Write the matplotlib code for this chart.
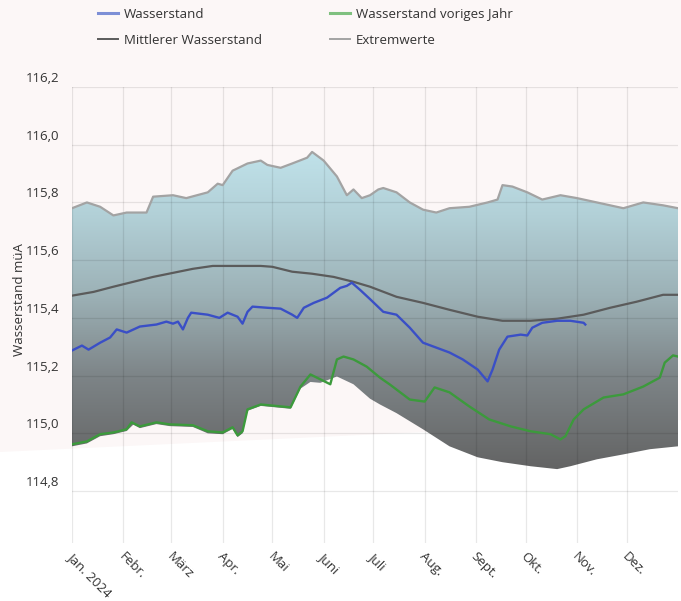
import matplotlib
matplotlib.use("Agg")
import matplotlib.pyplot as plt
import numpy as np
from matplotlib.colors import LinearSegmentedColormap
from matplotlib.patches import Polygon
from matplotlib.lines import Line2D
from matplotlib.transforms import ScaledTranslation

plt.rcParams['font.family'] = ['Open Sans', 'DejaVu Sans']

# day of year 2024 (0 = 1. Jan.)
month_starts = [0, 31, 60, 91, 121, 152, 182, 213, 244, 274, 305, 335]
month_labels = ['Jan. 2024', 'Febr.', 'März', 'Apr.', 'Mai', 'Juni', 'Juli',
                'Aug.', 'Sept.', 'Okt.', 'Nov.', 'Dez.']
y_ticks = [114.8, 115.0, 115.2, 115.4, 115.6, 115.8, 116.0, 116.2]

# Extremwerte oben
max_days = [0, 9, 17, 25, 33, 45, 49, 61, 69, 82, 88, 91, 97, 106, 114, 118, 126,
            133, 142, 145, 152, 160, 166, 170, 175, 180, 185, 188, 196, 204, 212,
            220, 228, 240, 251, 257, 260, 266, 275, 284, 295, 305, 317, 333, 345,
            357, 366]
max_vals = [115.78, 115.80, 115.785, 115.755, 115.765, 115.765, 115.82, 115.825,
            115.815, 115.835, 115.865, 115.86, 115.91, 115.935, 115.945, 115.93,
            115.92, 115.935, 115.955, 115.975, 115.945, 115.89, 115.825, 115.845,
            115.815, 115.825, 115.845, 115.85, 115.835, 115.80, 115.775, 115.765,
            115.78, 115.785, 115.80, 115.81, 115.86, 115.855, 115.835, 115.81,
            115.825, 115.815, 115.80, 115.78, 115.80, 115.79, 115.78]

# Extremwerte unten
min_days = [0, 9, 17, 25, 33, 37, 41, 51, 59, 73, 82, 91, 97, 100, 103, 106, 114,
            132, 138, 144, 150, 156, 160, 170, 180, 186, 196, 212, 228, 245, 260,
            277, 293, 301, 317, 333, 349, 366]
min_vals = [114.955, 114.965, 114.99, 114.997, 115.008, 115.03, 115.018, 115.032,
            115.025, 115.022, 115.0, 114.997, 115.015, 114.987, 115.0, 115.078,
            115.095, 115.085, 115.155, 115.178, 115.175, 115.188, 115.197, 115.17,
            115.12, 115.10, 115.07, 115.014, 114.955, 114.917, 114.90, 114.886,
            114.876, 114.886, 114.91, 114.927, 114.945, 114.955]

# Mittlerer Wasserstand
mean_days = [0, 13, 25, 37, 49, 61, 73, 85, 114, 121, 133, 145, 158, 170, 180, 196,
             212, 228, 245, 260, 277, 293, 309, 325, 341, 357, 366]
mean_vals = [115.477, 115.49, 115.508, 115.525, 115.542, 115.556, 115.57, 115.58,
             115.58, 115.577, 115.56, 115.553, 115.542, 115.525, 115.508, 115.473,
             115.452, 115.428, 115.404, 115.39, 115.39, 115.397, 115.411, 115.435,
             115.456, 115.48, 115.48]

# Wasserstand 2024
cur_days = [0, 6, 10, 17, 23, 27, 33, 41, 51, 57, 61, 64, 67, 70, 72, 82, 89, 94,
            100, 103, 106, 109, 118, 126, 133, 136, 140, 146, 154, 162, 166, 169,
            174, 180, 188, 196, 204, 212, 220, 228, 236, 245, 251, 254, 258, 263,
            271, 275, 278, 284, 293, 301, 309, 310]
cur_vals = [115.287, 115.304, 115.29, 115.314, 115.332, 115.36, 115.349, 115.37,
            115.377, 115.387, 115.38, 115.387, 115.36, 115.40, 115.418, 115.411,
            115.40, 115.418, 115.404, 115.38, 115.421, 115.439, 115.435, 115.432,
            115.411, 115.40, 115.435, 115.452, 115.47, 115.504, 115.511, 115.522,
            115.497, 115.465, 115.421, 115.411, 115.366, 115.314, 115.297, 115.28,
            115.256, 115.221, 115.18, 115.221, 115.29, 115.335, 115.342, 115.339,
            115.366, 115.383, 115.39, 115.39, 115.383, 115.377]

# Wasserstand voriges Jahr
prev_days = [0, 9, 17, 25, 33, 36, 41, 51, 59, 73, 82, 91, 97, 100, 103, 106, 114,
             132, 138, 144, 150, 156, 160, 164, 170, 178, 186, 192, 204, 213, 219,
             228, 240, 252, 265, 277, 289, 295, 298, 303, 309, 321, 333, 345, 355,
             358, 363, 366]
prev_vals = [114.962, 114.972, 114.997, 115.003, 115.014, 115.038, 115.024, 115.038,
             115.031, 115.028, 115.007, 115.003, 115.021, 114.993, 115.007, 115.083,
             115.10, 115.09, 115.162, 115.204, 115.187, 115.17, 115.256, 115.266,
             115.256, 115.231, 115.193, 115.169, 115.117, 115.11, 115.159, 115.142,
             115.093, 115.048, 115.024, 115.007, 114.997, 114.979, 114.99, 115.048,
             115.083, 115.124, 115.135, 115.162, 115.193, 115.245, 115.27, 115.266]

fig = plt.figure(figsize=(6.81, 6.01), dpi=100, facecolor='#fcf7f7')
# white band of the background picture
fig.patches.append(Polygon([[0, 1 - 452 / 601], [1, 1 - 420 / 601], [1, 0], [0, 0]],
                           closed=True, transform=fig.transFigure,
                           facecolor='white', edgecolor='none', zorder=0))

ax = fig.add_axes([72 / 681, 1 - 543 / 601, 606 / 681, (543 - 87) / 601])
ax.set_facecolor('none')
ax.set_zorder(2)

# gradient between the extreme values
cmap = LinearSegmentedColormap.from_list(
    'band', [(0.0, '#626262'), (0.3, '#7d8487'), (0.55, '#9cb1b6'),
             (0.8, '#b2d0d7'), (1.0, '#c0e2ea')])
grad = np.linspace(0, 1, 256).reshape(-1, 1)
im = ax.imshow(grad, cmap=cmap, origin='lower', aspect='auto',
               extent=[0, 366, 114.86, 115.98], zorder=1)
poly_xy = np.vstack([np.column_stack([max_days, max_vals]),
                     np.column_stack([min_days[::-1], min_vals[::-1]])])
band = Polygon(poly_xy, closed=True, facecolor='none', edgecolor='none',
               transform=ax.transData)
ax.add_patch(band)
im.set_clip_path(band)

ax.plot(max_days, max_vals, color='#a3a3a3', lw=1.6, zorder=3)
ax.plot(mean_days, mean_vals, color='#5b5b5b', lw=1.6, zorder=3)
ax.plot(prev_days, prev_vals, color='#3c9a3c', lw=1.7, zorder=4)
ax.plot(cur_days, cur_vals, color='#3a4fc6', lw=1.7, zorder=4)

ax.set_xlim(0, 366)
ax.set_ylim(114.62, 116.2)
ax.tick_params(axis='both', length=0)
ax.tick_params(axis='y', pad=9)
ax.tick_params(axis='x', pad=5)
ax.set_xticks(month_starts)
ax.set_xticklabels(month_labels, rotation=-45, ha='left', va='top',
                   rotation_mode='anchor', fontsize=9.5, color='#333333')
for lab in ax.get_xticklabels():
    lab.set_transform(lab.get_transform() + ScaledTranslation(0.02, 0, fig.dpi_scale_trans))
ax.set_yticks(y_ticks)
ax.set_yticklabels([f'{v:.1f}'.replace('.', ',') for v in y_ticks],
                   fontsize=9.5, color='#333333')
for lab in ax.get_yticklabels():
    lab.set_transform(lab.get_transform() + ScaledTranslation(0, 0.10, fig.dpi_scale_trans))
ax.grid(True, color='black', alpha=0.09, lw=0.9)
ax.set_axisbelow(False)
for s in ax.spines.values():
    s.set_visible(False)

fig.text(20 / 681, 1 - 300 / 601, 'Wasserstand müA', rotation=90,
         ha='center', va='center', fontsize=9.5, color='#333333')

handles = [Line2D([], [], color='#7d8fd6', lw=2.2),
           Line2D([], [], color='#5b5b5b', lw=1.4),
           Line2D([], [], color='#7fc07f', lw=2.2),
           Line2D([], [], color='#a3a3a3', lw=1.4)]
labels = ['Wasserstand', 'Mittlerer Wasserstand', 'Wasserstand voriges Jahr',
          'Extremwerte']
fig.legend(handles, labels, ncol=2, loc='upper left', frameon=False,
           bbox_to_anchor=(98 / 681, 1 - 8 / 601), borderpad=0, borderaxespad=0,
           handlelength=1.5, handletextpad=0.45, columnspacing=5.2,
           labelspacing=0.95, fontsize=9.5, labelcolor='#333333')

fig.savefig('out.png', dpi=100, facecolor=fig.get_facecolor())
